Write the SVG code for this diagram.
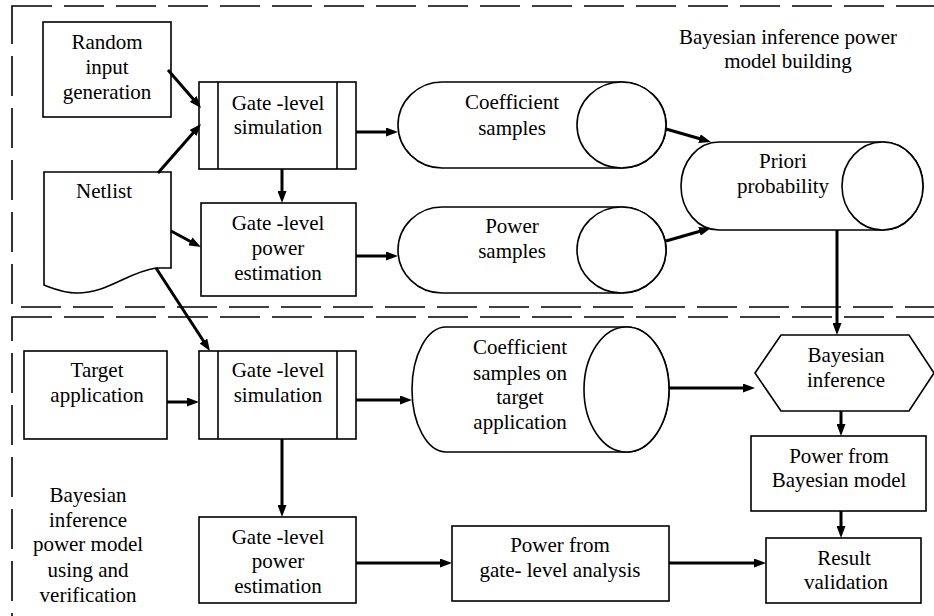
<svg xmlns="http://www.w3.org/2000/svg" width="934" height="616" viewBox="0 0 934 616" font-family="Liberation Serif">
<defs>
<marker id="ah" markerUnits="userSpaceOnUse" markerWidth="12" markerHeight="9" refX="6" refY="4.5" orient="auto">
<path d="M0,0 L12,4.5 L0,9 Z" fill="#000"/>
</marker>
<style>
text{font-size:21px;fill:#000;text-anchor:middle}
.s{fill:#fff;stroke:#000;stroke-width:1.6}
.d{fill:none;stroke:#000;stroke-width:1.6;stroke-dasharray:40 12}
.a{fill:none;stroke:#000;stroke-width:3;marker-end:url(#ah)}
</style>
</defs>
<rect width="934" height="616" fill="#fff"/>
<g id="regions">
<rect class="d" x="12" y="6" width="940" height="301"/>
<rect class="d" x="12" y="317" width="940" height="320"/>
</g>
<g id="label-building">
<text x="788" y="44">Bayesian inference power</text>
<text x="788" y="68">model building</text>
</g>
<g id="label-using">
<text x="88" y="502">Bayesian</text>
<text x="88" y="527">inference</text>
<text x="88" y="551">power model</text>
<text x="88" y="577">using and</text>
<text x="88" y="602">verification</text>
</g>
<g id="random-input">
<rect class="s" x="43" y="22" width="128" height="95"/>
<text x="107" y="49">Random</text>
<text x="107" y="74">input</text>
<text x="107" y="99">generation</text>
</g>
<g id="netlist">
<path class="s" d="M44,172 H171 V268 H156 C128,272 108,293 77,293 C63,293 52,288 44,285 Z"/>
<text x="104" y="198">Netlist</text>
</g>
<g id="sim-top">
<rect class="s" x="199" y="82" width="157" height="87"/>
<line x1="218" y1="82" x2="218" y2="169" stroke="#000" stroke-width="1.6"/>
<line x1="337" y1="82" x2="337" y2="169" stroke="#000" stroke-width="1.6"/>
<text x="278" y="110">Gate -level</text>
<text x="278" y="134">simulation</text>
</g>
<g id="power-est-top">
<rect class="s" x="201" y="203" width="155" height="93"/>
<text x="278" y="230">Gate -level</text>
<text x="278" y="255">power</text>
<text x="278" y="280">estimation</text>
</g>
<g id="coeff-samples">
<path class="s" d="M442,82 H621.5 A44.5,43 0 0 1 621.5,168 H442 A44,43 0 0 1 442,82 Z"/>
<ellipse class="s" cx="621.5" cy="125" rx="44.5" ry="43"/>
<text x="512" y="109">Coefficient</text>
<text x="512" y="135">samples</text>
</g>
<g id="power-samples">
<path class="s" d="M442,207 H621.5 A44.5,43 0 0 1 621.5,293 H442 A44,43 0 0 1 442,207 Z"/>
<ellipse class="s" cx="621.5" cy="250" rx="44.5" ry="43"/>
<text x="512" y="233">Power</text>
<text x="512" y="258">samples</text>
</g>
<g id="priori">
<path class="s" d="M719,142 H882.5 A40.5,44 0 0 1 882.5,230 H719 A38,44 0 0 1 719,142 Z"/>
<ellipse class="s" cx="882.5" cy="186" rx="40.5" ry="44"/>
<text x="783" y="168">Priori</text>
<text x="783" y="193">probability</text>
</g>
<g id="target-app">
<rect class="s" x="24" y="351" width="143" height="88"/>
<text x="97" y="377">Target</text>
<text x="97" y="402">application</text>
</g>
<g id="sim-bottom">
<rect class="s" x="199" y="351" width="157" height="88"/>
<line x1="218" y1="351" x2="218" y2="439" stroke="#000" stroke-width="1.6"/>
<line x1="337" y1="351" x2="337" y2="439" stroke="#000" stroke-width="1.6"/>
<text x="278" y="377">Gate -level</text>
<text x="278" y="402">simulation</text>
</g>
<g id="power-est-bottom">
<rect class="s" x="199" y="517" width="157" height="86"/>
<text x="278" y="544">Gate -level</text>
<text x="278" y="568">power</text>
<text x="278" y="593">estimation</text>
</g>
<g id="coeff-target">
<path class="s" d="M446,327 H626.5 A42.5,62.5 0 0 1 626.5,452 H446 A34,62.5 0 0 1 446,327 Z"/>
<ellipse class="s" cx="626.5" cy="389.5" rx="42.5" ry="62.5"/>
<text x="520" y="354">Coefficient</text>
<text x="520" y="380">samples on</text>
<text x="520" y="404">target</text>
<text x="520" y="429">application</text>
</g>
<g id="bayesian-inference">
<polygon class="s" points="755,373 781,335 909,335 934,373 909,411 781,411"/>
<text x="846" y="362">Bayesian</text>
<text x="846" y="387">inference</text>
</g>
<g id="power-bayes">
<rect class="s" x="751" y="436" width="175" height="75"/>
<text x="839" y="463">Power from</text>
<text x="839" y="487">Bayesian model</text>
</g>
<g id="power-gate">
<rect class="s" x="452" y="526" width="217" height="75"/>
<text x="560" y="552">Power from</text>
<text x="560" y="577">gate- level analysis</text>
</g>
<g id="result">
<rect class="s" x="766" y="538" width="155" height="65"/>
<text x="844" y="565">Result</text>
<text x="846" y="589">validation</text>
</g>
<g id="connectors">
<line class="a" x1="168" y1="70" x2="197.1" y2="103.5"/>
<line class="a" x1="158" y1="173" x2="197" y2="128.5"/>
<line class="a" x1="282" y1="169" x2="282" y2="197"/>
<line class="a" x1="171" y1="231" x2="195.7" y2="244.2"/>
<line class="a" x1="156" y1="268" x2="206.7" y2="346"/>
<line class="a" x1="356" y1="132" x2="392" y2="132"/>
<line class="a" x1="356" y1="256" x2="392" y2="256"/>
<line class="a" x1="666" y1="129" x2="705.2" y2="140.3"/>
<line class="a" x1="666" y1="241" x2="705.2" y2="229.7"/>
<line class="a" x1="837" y1="230" x2="837" y2="329"/>
<line class="a" x1="167" y1="402" x2="193" y2="402"/>
<line class="a" x1="356" y1="400" x2="406" y2="400"/>
<line class="a" x1="669" y1="388" x2="749" y2="388"/>
<line class="a" x1="282" y1="439" x2="282" y2="511"/>
<line class="a" x1="841" y1="411" x2="841" y2="430"/>
<line class="a" x1="841" y1="511" x2="841" y2="532"/>
<line class="a" x1="356" y1="563" x2="446" y2="563"/>
<line class="a" x1="669" y1="563" x2="760" y2="563"/>
</g>
</svg>
